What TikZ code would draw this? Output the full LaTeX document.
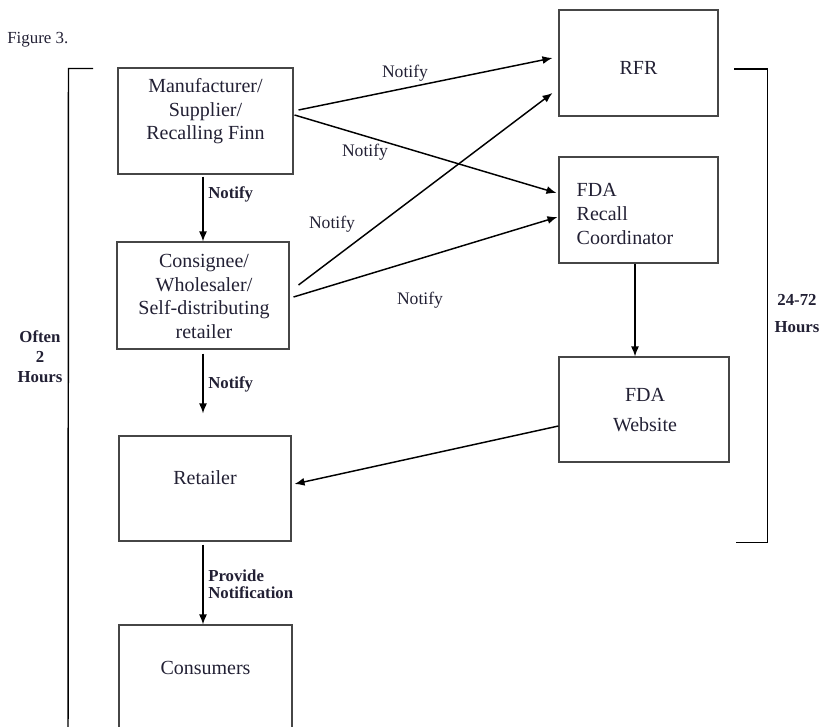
\documentclass[tikz,border=0pt]{standalone}
\usepackage{fontspec}
\setmainfont{Liberation Serif}
\usetikzlibrary{arrows.meta,calc}
\definecolor{txt}{RGB}{34,32,52}
\definecolor{boxline}{RGB}{70,70,70}
\begin{document}
\begin{tikzpicture}[x=0.75pt,y=-0.75pt,
  box/.style={draw=boxline,line width=0.8pt,inner sep=0pt,fill=none},
  boxtxt/.style={text=txt,font=\fontsize{15}{17.6}\selectfont,inner sep=0pt,align=center},
  lbl/.style={text=txt,font=\fontsize{13.2}{15}\selectfont,inner sep=0pt},
  blbl/.style={text=txt,font=\fontsize{12.6}{12.8}\selectfont\bfseries,inner sep=0pt,align=left},
  arr/.style={line width=1.1pt,-{Latex[length=7.5pt,width=6pt]}},
  brk/.style={line width=1.1pt}]
\useasboundingbox (0,0) rectangle (824,727);
\clip (0,0) rectangle (824,727);
% boxes
\node[box,minimum width=175*0.75pt,minimum height=106*0.75pt] (manu) at (205.5,121) {};
\node[box,minimum width=172*0.75pt,minimum height=107*0.75pt] (cons) at (203,295.5) {};
\node[box,minimum width=172*0.75pt,minimum height=105*0.75pt] (ret) at (205,488.5) {};
\node[box,minimum width=173*0.75pt,minimum height=106*0.75pt] (consum) at (205.5,678) {};
\node[box,minimum width=159*0.75pt,minimum height=106*0.75pt] (rfr) at (638.5,63) {};
\node[box,minimum width=159*0.75pt,minimum height=106*0.75pt] (fdac) at (638.5,210) {};
\node[box,minimum width=170*0.75pt,minimum height=105*0.75pt] (web) at (644,409.5) {};
% box texts
\node[boxtxt] (manut) at ([shift={(0,-9.5)}]manu.center) {Manufacturer/\\Supplier/\\Recalling Finn};
\node[boxtxt] (const) at ([shift={(1,1)}]cons.center) {Consignee/\\Wholesaler/\\Self-distributing\\retailer};
\node[boxtxt] (rett) at ([shift={(0,42)}]ret.north) {Retailer};
\node[boxtxt] (consumt) at ([shift={(0,44)}]consum.north) {Consumers};
\node[boxtxt] (rfrt) at ([shift={(0,5)}]rfr.center) {RFR};
\node[boxtxt,align=left,anchor=west,font=\fontsize{15}{18}\selectfont] (fdact) at ([shift={(18,4)}]fdac.west) {FDA\\Recall\\Coordinator};
\node[boxtxt,font=\fontsize{15}{22.5}\selectfont] (webt) at ([shift={(1,0.5)}]web.center) {FDA\\Website};
% arrows
\draw[arr] ([shift={(5,-11)}]manu.east) -- ([shift={(-6,-5)}]rfr.west);
\draw[arr] ([shift={(1,-6)}]manu.east) -- ([shift={(-2,-17)}]fdac.west);
\draw[arr] ([shift={(9,-10.5)}]cons.east) -- ([shift={(-6,30)}]rfr.west);
\draw[arr] ([shift={(4,1.5)}]cons.east) -- ([shift={(-1,7)}]fdac.west);
\draw[arr] ([shift={(-2.5,2)}]manu.south) -- (cons.north);
\draw[arr] ([shift={(0,4)}]cons.south) -- ($(cons.south|-ret.north)+(0,-22)$);
\draw[arr] ([shift={(-3.5,0)}]fdac.south) -- ([shift={(-9,0)}]web.north);
\draw[arr] ([shift={(0,16.5)}]web.west) -- ([shift={(3,-4.5)}]ret.east);
\draw[arr] ([shift={(-2,3)}]ret.south) -- ([shift={(-2.5,0)}]consum.north);
% labels
\node[lbl] (l1) at (405,73) {Notify};
\node[lbl] (l2) at (365,152) {Notify};
\node[lbl] (l3) at (332,224) {Notify};
\node[lbl] (l4) at (420,300) {Notify};
\node[blbl,anchor=west] (b1) at (208,194) {Notify};
\node[blbl,anchor=west] (b2) at (208,384) {Notify};
\node[blbl,anchor=west] (b3) at (208,584.5) {Provide\\Notification};
\node[text=txt,font=\fontsize{12.7}{14}\selectfont,inner sep=0pt,anchor=west] (fig) at (7,40) {Figure 3.};
\node[blbl,align=center,font=\fontsize{12.6}{15}\selectfont\bfseries] (often) at (40,357) {Often\\2\\Hours};
\node[blbl,align=center,font=\fontsize{12.6}{20.3}\selectfont\bfseries] (hrs) at (797,313.5) {24-72\\Hours};
% brackets
\coordinate (lbt) at (93,68.5);
\coordinate (lbc) at (68.5,68.5);
\coordinate (lbb) at (68,740);
\draw[brk] (lbt) -- (lbc) -- (lbb);
\coordinate (rbt) at (734,69);
\coordinate (rbc) at (767.5,69);
\coordinate (rbd) at (767.5,542.5);
\coordinate (rbb) at (736,542.5);
\draw[brk] (rbt) -- (rbc) -- (rbd) -- (rbb);
\end{tikzpicture}
\end{document}
